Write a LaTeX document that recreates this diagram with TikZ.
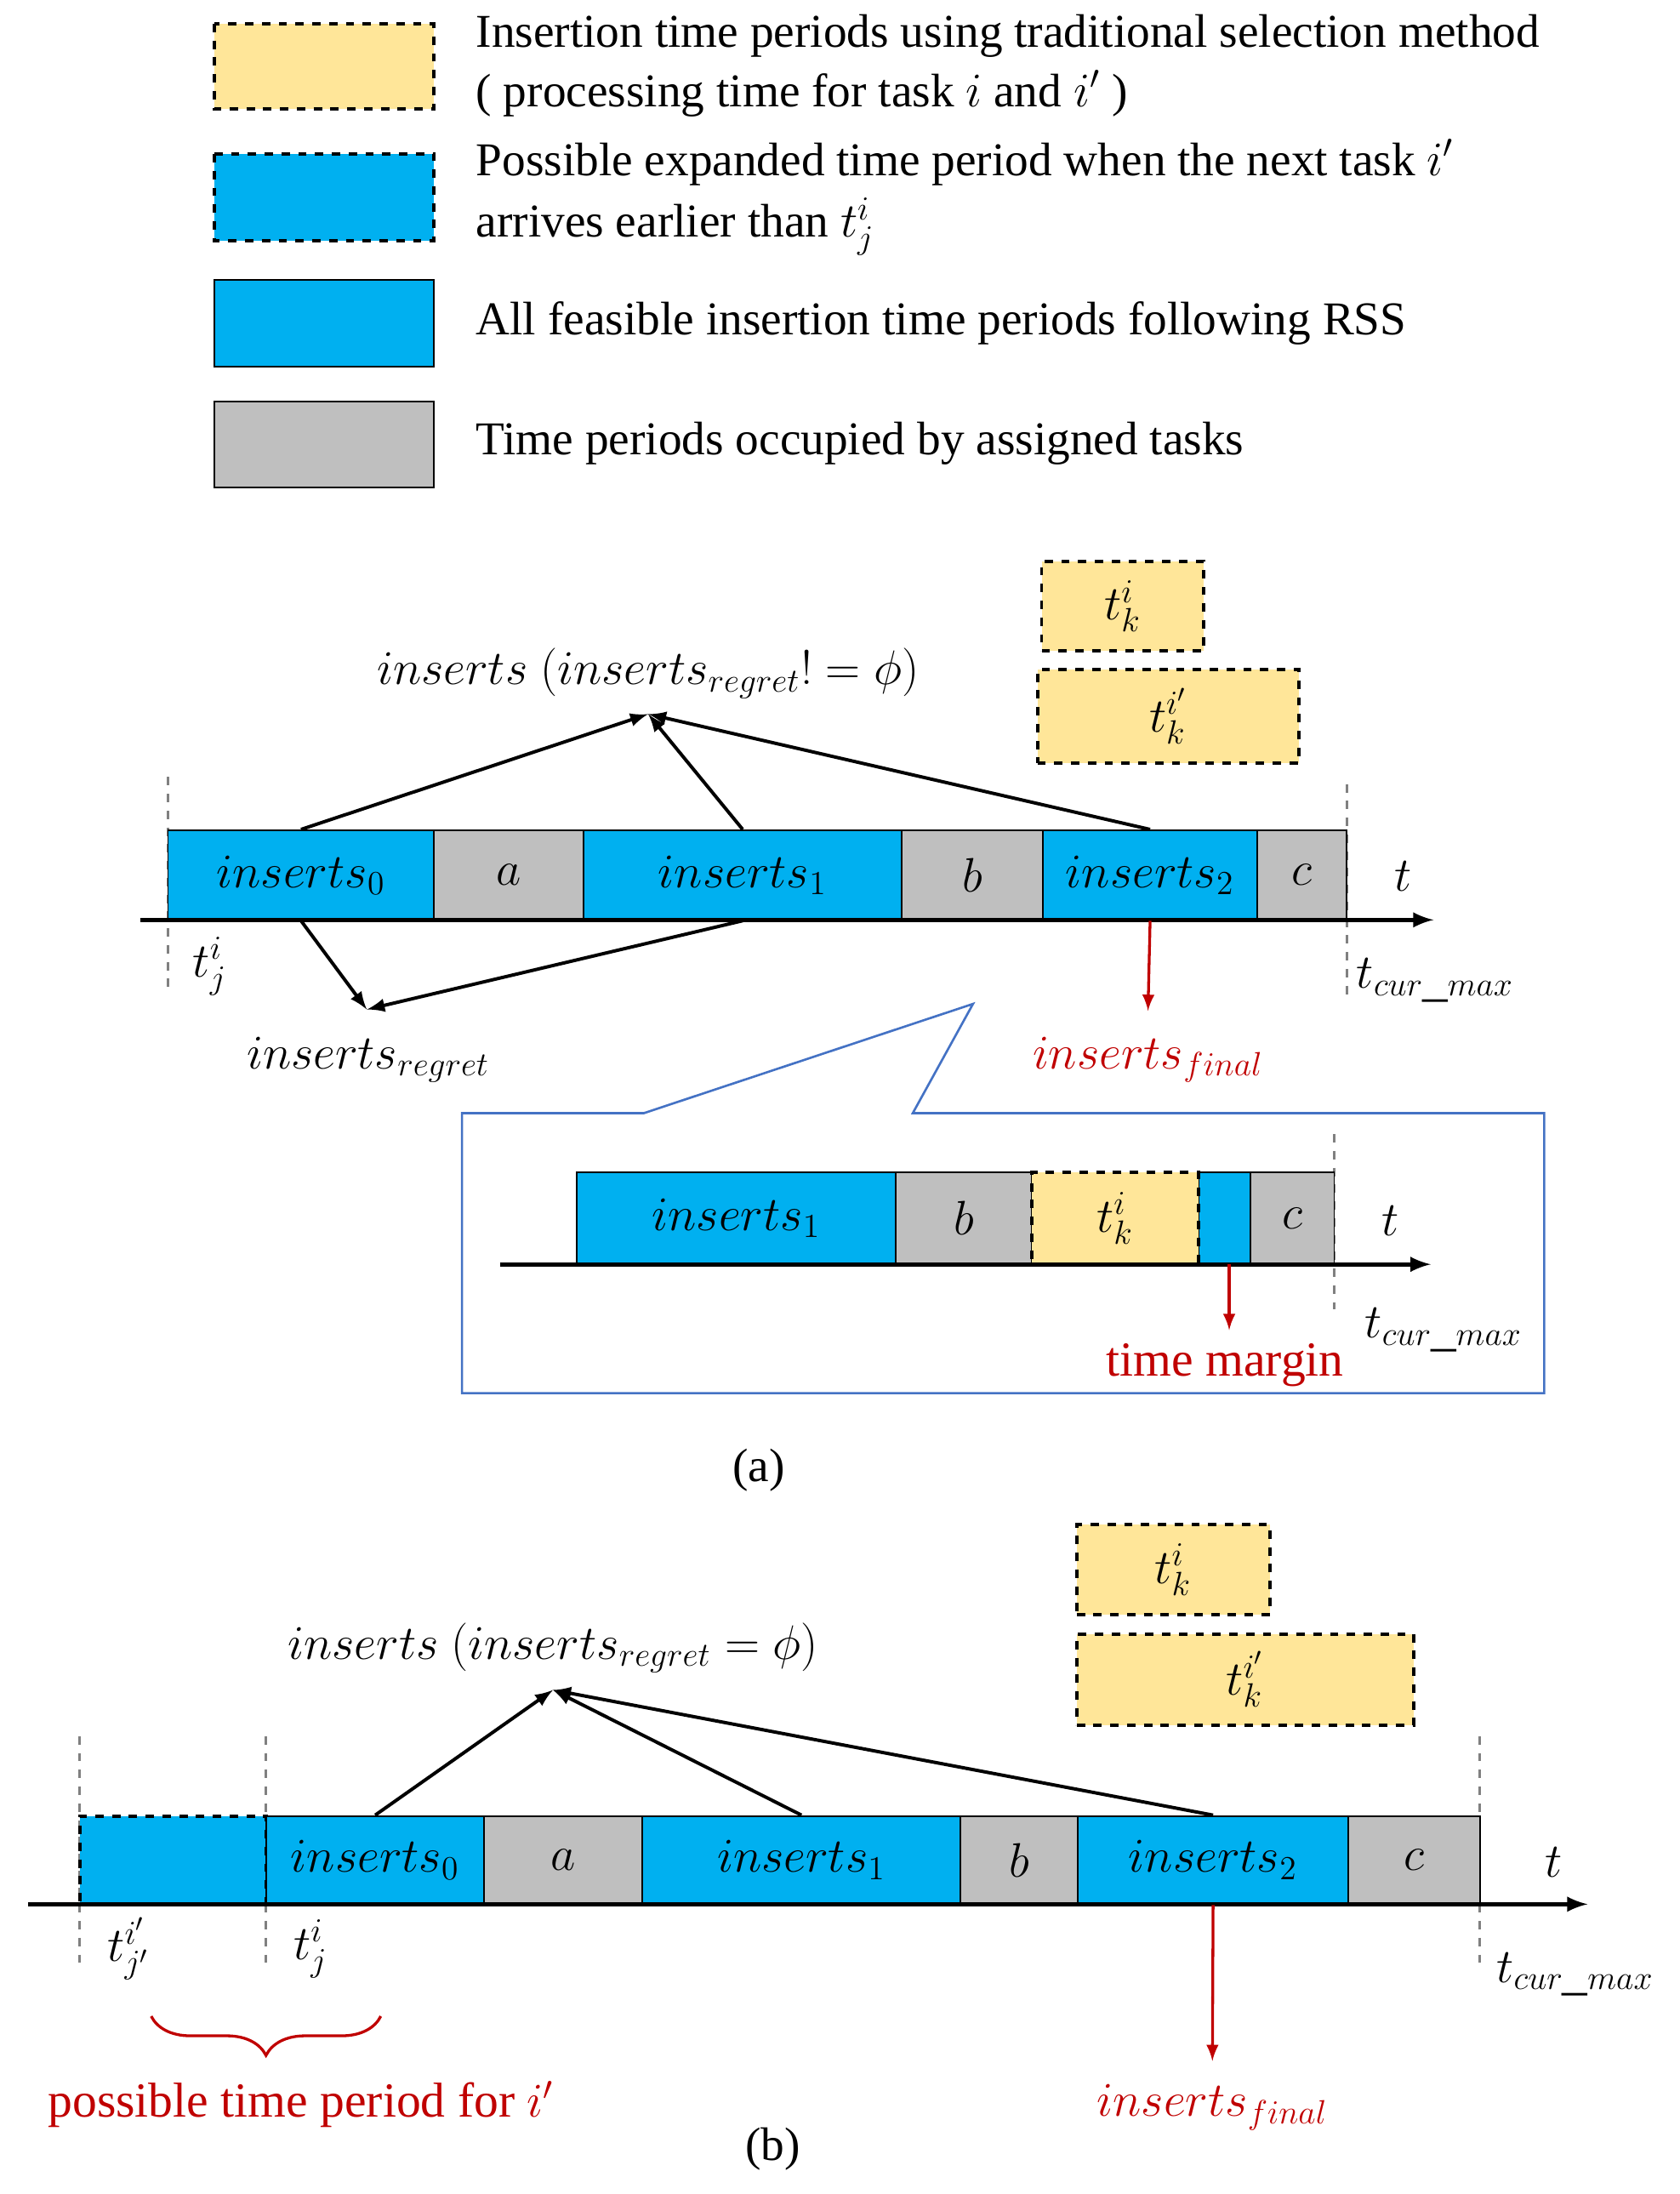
\documentclass[tikz,border=0pt]{standalone}
\usepackage{fontspec}
\setmainfont{Liberation Serif}
\usetikzlibrary{decorations.pathreplacing}
\definecolor{cblue}{HTML}{00B0F0}
\definecolor{cgray}{HTML}{BFBFBF}
\definecolor{cyel}{HTML}{FFE699}
\definecolor{cred}{HTML}{C00000}
\definecolor{cbox}{HTML}{4472C4}
\begin{document}
\begin{tikzpicture}[x=0.5pt,y=-0.5pt,
  blu/.style={fill=cblue,draw=black,line width=0.6pt},
  gry/.style={fill=cgray,draw=black,line width=0.6pt},
  yel/.style={fill=cyel,draw=black,dashed,line width=1.2pt},
  blud/.style={fill=cblue,draw=black,dashed,line width=1.2pt},
  lab/.style={font=\fontsize{18}{21}\selectfont},
  leg/.style={font=\fontsize{16.8}{20}\selectfont,anchor=west,align=left},
  axis/.style={line width=1.5pt,-latex},
  arr/.style={line width=1.2pt,-latex},
  rarr/.style={cred,line width=1pt,-latex},
  vd/.style={gray,dashed,line width=0.8pt},
  red/.style={text=cred}]
\useasboundingbox (0,0) rectangle (1200,1567);
% legend
\draw[yel] (153,17) rectangle (310,78);
\draw[blud] (153,110) rectangle (310,172);
\draw[blu] (153,200) rectangle (310,262);
\draw[gry] (153,287) rectangle (310,348);
\node[leg] (l1) at (333,47) {Insertion time periods using traditional selection method\\[1pt]( processing time for task $i$ and $i'$ )};
\node[leg] (l2) at (333,141) {Possible expanded time period when the next task $i'$\\[2pt]arrives earlier than $t_j^i$};
\node[leg] (l3) at (333,231) {All feasible insertion time periods following RSS};
\node[leg] (l4) at (333,317) {Time periods occupied by assigned tasks};
% (a)
\draw[vd] (120,555) -- (120,710);
\draw[vd] (962,560) -- (962,715);
\node[blu,minimum width=95pt,minimum height=32pt,inner sep=0,lab] (a0) at (215,625) {$inserts_0$};
\node[gry,minimum width=53.5pt,minimum height=32pt,inner sep=0,lab] (aa) at (363.5,625) {$a$};
\node[blu,minimum width=113.5pt,minimum height=32pt,inner sep=0,lab] (a1) at (530.5,625) {$inserts_1$};
\node[gry,minimum width=50.5pt,minimum height=32pt,inner sep=0,lab] (ab) at (694.5,625) {$b$};
\node[blu,minimum width=76.5pt,minimum height=32pt,inner sep=0,lab] (a2) at (821.5,625) {$inserts_2$};
\node[gry,minimum width=32pt,minimum height=32pt,inner sep=0,lab] (ac) at (930,625) {$c$};
\coordinate (ax0) at (100,657); \coordinate (ax1) at (1024,657);
\draw[axis] (ax0) -- (ax1);
\node[lab] (at) at (1002,626) {$t$};
\node[lab] (atj) at (150,690) {$t_j^i$};
\node[lab,anchor=west] (atc) at (962,700) {$t_{cur\_max}$};
\node[yel,minimum width=58pt,minimum height=32pt,inner sep=0,lab] (ay1) at (802,433) {$t_k^i$};
\node[yel,minimum width=93.5pt,minimum height=33.5pt,inner sep=0,lab] (ay2) at (834.5,511.5) {$t_k^{i'}$};
\node[lab] (atitle) at (463,481) {$inserts\ (inserts_{regret}!=\phi)$};
\coordinate (atip) at (463,510);
\draw[arr] (a0.north) -- (atip);
\draw[arr] (a1.north) -- (atip);
\draw[arr] (a2.north) -- (atip);
\coordinate (rtip) at (262,721);
\draw[arr] (a0.south) -- (rtip);
\draw[arr] (a1.south) -- (rtip);
\node[lab] (areg) at (263,757) {$inserts_{regret}$};
\coordinate (afin) at (820,722);
\draw[rarr] (a2.south) -- (afin);
\node[lab,red] (afinl) at (820,757) {$inserts_{final}$};
% callout
\draw[cbox,line width=0.8pt] (330,795) -- (460,795) -- (695,717) -- (652,795) -- (1103,795) -- (1103,995) -- (330,995) -- cycle;
\draw[vd] (953,810) -- (953,935);
\node[blu,minimum width=114pt,minimum height=33pt,inner sep=0,lab] (c1) at (526,870) {$inserts_1$};
\node[gry,minimum width=48.5pt,minimum height=33pt,inner sep=0,lab] (cb) at (688.5,870) {$b$};
\node[blu,minimum width=18.5pt,minimum height=33pt,inner sep=0] (cm) at (874.5,870) {};
\node[gry,minimum width=30pt,minimum height=33pt,inner sep=0,lab] (cc) at (923,870) {$c$};
\node[yel,minimum width=59.5pt,minimum height=33pt,inner sep=0,lab] (cy) at (796.5,870) {$t_k^i$};
\coordinate (cx0) at (357,903); \coordinate (cx1) at (1022,903);
\draw[axis] (cx0) -- (cx1);
\node[lab] (ct) at (993,872) {$t$};
\node[lab,anchor=west] (ctc) at (968,950) {$t_{cur\_max}$};
\coordinate (cmtop) at (878,903);
\coordinate (cmar) at (878,950);
\draw[rarr] (cmtop) -- (cmar);
\node[red,font=\fontsize{17.5}{20}\selectfont] (cml) at (875,975) {time margin};
\node[font=\fontsize{16.8}{20}\selectfont] (capa) at (542,1050) {(a)};
% (b)
\draw[vd] (57,1240) -- (57,1405);
\draw[vd] (190,1240) -- (190,1405);
\draw[vd] (1057,1240) -- (1057,1405);
\node[blud,minimum width=66.5pt,minimum height=31.5pt,inner sep=0] (bd) at (123.5,1328.5) {};
\node[blu,minimum width=78pt,minimum height=31.5pt,inner sep=0,lab] (b0) at (268,1328.5) {$inserts_0$};
\node[gry,minimum width=56.5pt,minimum height=31.5pt,inner sep=0,lab] (ba) at (402.5,1328.5) {$a$};
\node[blu,minimum width=113.5pt,minimum height=31.5pt,inner sep=0,lab] (b1) at (572.5,1328.5) {$inserts_1$};
\node[gry,minimum width=42pt,minimum height=31.5pt,inner sep=0,lab] (bb) at (728,1328.5) {$b$};
\node[blu,minimum width=96.5pt,minimum height=31.5pt,inner sep=0,lab] (b2) at (866.5,1328.5) {$inserts_2$};
\node[gry,minimum width=47pt,minimum height=31.5pt,inner sep=0,lab] (bc) at (1010,1328.5) {$c$};
\coordinate (bx0) at (20,1360); \coordinate (bx1) at (1134,1360);
\draw[axis] (bx0) -- (bx1);
\node[lab] (bt) at (1110,1330) {$t$};
\node[lab] (btj2) at (92,1392) {$t_{j'}^{i'}$};
\node[lab] (btj) at (222,1392) {$t_j^i$};
\node[lab,anchor=west] (btc) at (1062,1410) {$t_{cur\_max}$};
\node[yel,minimum width=69pt,minimum height=32pt,inner sep=0,lab] (by1) at (838,1121) {$t_k^i$};
\node[yel,minimum width=120.5pt,minimum height=32.5pt,inner sep=0,lab] (by2) at (889.5,1199.5) {$t_k^{i'}$};
\node[lab] (btitle) at (395,1177) {$inserts\ (inserts_{regret}=\phi)$};
\coordinate (btip) at (395,1207);
\draw[arr] (b0.north) -- (btip);
\draw[arr] (b1.north) -- (btip);
\draw[arr] (b2.north) -- (btip);
\coordinate (bfin) at (866,1472);
\draw[rarr] (b2.south) -- (bfin);
\node[lab,red] (bfinl) at (866,1505) {$inserts_{final}$};
\coordinate (br0) at (108,1440); \coordinate (br1) at (272,1440);
\draw[cred,line width=1pt,decorate,decoration={brace,mirror,amplitude=14pt}] (br0) -- (br1);
\node[red,font=\fontsize{17.5}{20}\selectfont] (bpl) at (215,1503) {possible time period for $i'$};
\node[font=\fontsize{16.8}{20}\selectfont] (capb) at (552,1535) {(b)};
\end{tikzpicture}
\end{document}
